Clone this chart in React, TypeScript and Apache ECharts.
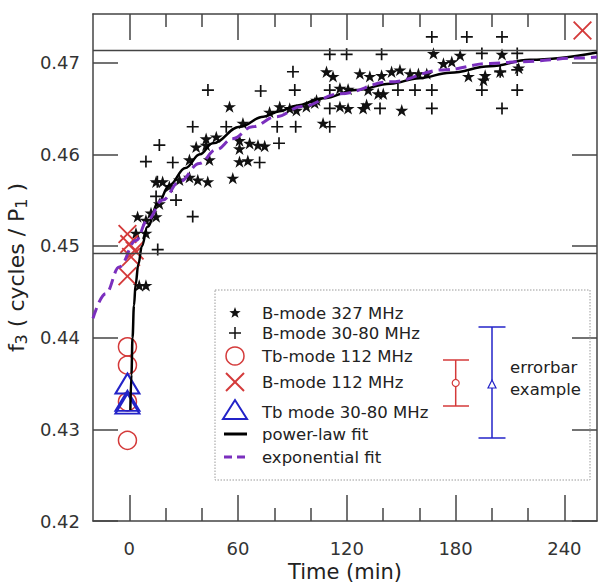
import React, { useEffect, useRef } from 'react';
import * as echarts from 'echarts';

const X_MIN = -20;
const X_MAX = 258;
const Y_MIN = 0.42;
const Y_MAX = 0.4753;
const xMajorTicks = [0, 60, 120, 180, 240];
const xMinorTicks = [20, 40, 80, 100, 140, 160, 200, 220];
const yTicks = [0.42, 0.43, 0.44, 0.45, 0.46, 0.47];
const refLines = [0.4713, 0.4492];

// B-mode 327 MHz (stars)
const starT = [5.5, 9.2, 3.7, 4.6, 9.2, 12, 14.8, 14.8, 18.4, 27.7, 33.2, 37.8, 43.3, 57.1, 33.2, 44.2, 36.9, 42.4, 42.4, 48, 60.8, 62.7, 66.4, 71, 74.7, 60.8, 65.4, 55.3, 83, 9.2, 60.8, 22.1, 16.6,
  108.8, 112.4, 127.2, 132.7, 139.2, 144.7, 149.3, 154.9, 159.5, 164.1, 116.2, 120.7, 131.8, 137.3, 140.1, 116.2, 120.7, 129, 130.9, 150.3, 88.5, 97.7, 102.3, 106.9, 92.2, 103.3, 77.4,
  167.8, 182.5, 205.6, 173.3, 177.9, 187.1, 196.3, 195.4, 204.6, 214.8];
const starV = [0.4457, 0.4457, 0.4514, 0.4532, 0.4528, 0.4536, 0.4532, 0.457, 0.457, 0.4572, 0.4575, 0.4572, 0.457, 0.4574, 0.4594, 0.4594, 0.4608, 0.461, 0.4617, 0.4619, 0.4606, 0.4634, 0.4612, 0.461, 0.4609, 0.4592, 0.4593, 0.4652, 0.4652, 0.4514, 0.4615, 0.4565, 0.4546,
  0.469, 0.4685, 0.4688, 0.4685, 0.4686, 0.469, 0.4692, 0.4688, 0.4688, 0.4688, 0.4672, 0.4671, 0.467, 0.4666, 0.4666, 0.4652, 0.465, 0.465, 0.4654, 0.4648, 0.465, 0.4652, 0.4656, 0.4634, 0.4648, 0.4659, 0.4646,
  0.471, 0.4708, 0.4709, 0.4699, 0.4701, 0.4685, 0.4686, 0.4681, 0.469, 0.4694];

// B-mode 30-80 MHz (pluses)
const plusT = [166.9, 186.2, 205.6, 110.6, 119.9, 139.2, 194.5, 214, 90.3, 204.6, 214, 43.4, 72.5, 91.3, 110.6, 148.2, 157.6, 166.9, 194.5, 214, 110.6, 138.3, 166.9, 205.6, 35, 53.5, 81.6, 91.8, 110.6, 16.6, 82.6, 9.2, 24, 71.9, 14.8, 25.8, 35, 15.7, 15.5];
const plusV = [0.4728, 0.4728, 0.4728, 0.4709, 0.4709, 0.4709, 0.471, 0.471, 0.469, 0.469, 0.4692, 0.467, 0.4669, 0.467, 0.467, 0.467, 0.467, 0.467, 0.467, 0.467, 0.465, 0.465, 0.465, 0.465, 0.463, 0.463, 0.463, 0.463, 0.463, 0.461, 0.4612, 0.4592, 0.4591, 0.4591, 0.4554, 0.455, 0.4532, 0.4496, 0.457];

// Tb-mode 112 MHz (circles)
const circT = [-1, -1, -1, -1];
const circV = [0.439, 0.437, 0.433, 0.4288];

// B-mode 112 MHz (crosses)
const crossT = [-1, 0, 3, 1, -1, 250];
const crossV = [0.4513, 0.4502, 0.4495, 0.4488, 0.4467, 0.4735];

// Tb mode 30-80 MHz (triangles)
const triT = [-1, -1, -1];
const triV = [0.435, 0.4331, 0.4328];

// power-law fit
const powT = [0.6, 1.2, 1.8, 2.6, 3.5, 5, 7, 10, 16, 22, 31, 39, 46, 61, 74, 83, 92, 107, 125, 144, 160, 177, 199, 221, 258];
const powV = [0.4321, 0.436, 0.44, 0.4435, 0.4458, 0.448, 0.45, 0.4521, 0.4547, 0.4566, 0.4585, 0.46, 0.4612, 0.463, 0.4641, 0.4647, 0.4653, 0.4661, 0.467, 0.4677, 0.4683, 0.4689, 0.4696, 0.4703, 0.4711];

// exponential fit
const expT = [-20, -13, -5.5, 3.7, 10, 18.4, 27.7, 38.7, 48, 57, 68, 81, 95, 116, 144, 173, 199, 216, 249, 258];
const expV = [0.4421, 0.4448, 0.4477, 0.4506, 0.4528, 0.455, 0.457, 0.459, 0.4605, 0.4617, 0.463, 0.4641, 0.4652, 0.4666, 0.4679, 0.4692, 0.4699, 0.4701, 0.4705, 0.4706];

const legendNames = ['B-mode 327 MHz', 'B-mode 30-80 MHz', 'Tb-mode 112 MHz', 'B-mode 112 MHz', 'Tb mode 30-80 MHz', 'power-law fit', 'exponential fit'];

const RED = '#d43a3a';
const BLUE = '#2323c8';
const PURPLE = '#7b2fbe';
const INK = '#222';
const AXIS = '#444';
const FONT = 'DejaVu Sans';

const STAR = 'path://M50,0L61.2,34.5L97.6,34.5L68.2,55.9L79.4,90.5L50,69.1L20.6,90.5L31.8,55.9L2.4,34.5L38.8,34.5Z';
const PLUS = 'path://M8.6,0H11.4V8.6H20V11.4H11.4V20H8.6V11.4H0V8.6H8.6Z';
const CROSS = 'path://M0,1.4L1.4,0L10,8.6L18.6,0L20,1.4L11.4,10L20,18.6L18.6,20L10,11.4L1.4,20L0,18.6L8.6,10Z';

const zip = (a: number[], b: number[]) => a.map((t, i) => [t, b[i]]);

function starPoints(cx: number, cy: number, r: number) {
  const pts: number[][] = [];
  for (let i = 0; i < 10; i++) {
    const rr = i % 2 === 0 ? r : r * 0.4;
    const a = -Math.PI / 2 + (i * Math.PI) / 5;
    pts.push([cx + rr * Math.cos(a), cy + rr * Math.sin(a)]);
  }
  return pts;
}

export default function App() {
  const ref = useRef<HTMLDivElement>(null);
  useEffect(() => {
    if (!ref.current) return;
    const chart = echarts.init(ref.current, null, { renderer: 'svg' });
    const gridRect = { left: 93, top: 14, width: 504, height: 507, containLabel: false, outerBoundsMode: 'none' };
    const tickLine = { color: AXIS, width: 1.5 };
    const baseX = { type: 'value', min: X_MIN, max: X_MAX, splitLine: { show: false } };
    const baseY = { type: 'value', min: Y_MIN, max: Y_MAX, splitLine: { show: false } };

    const legendRowsY = [313, 333, 356, 382, 410, 434, 457];
    const lx = 235;
    const legendGraphics: any[] = [
      { type: 'rect', shape: { x: 215, y: 290, width: 375, height: 190 }, style: { fill: 'none', stroke: '#9a9a9a', lineWidth: 1, lineDash: [1.5, 1.5] }, z: 10 },
      { type: 'polygon', shape: { points: starPoints(lx, legendRowsY[0], 6) }, style: { fill: '#111' }, z: 10 },
      { type: 'line', shape: { x1: lx - 6, y1: legendRowsY[1], x2: lx + 6, y2: legendRowsY[1] }, style: { stroke: '#111', lineWidth: 1.5 }, z: 10 },
      { type: 'line', shape: { x1: lx, y1: legendRowsY[1] - 6, x2: lx, y2: legendRowsY[1] + 6 }, style: { stroke: '#111', lineWidth: 1.5 }, z: 10 },
      { type: 'circle', shape: { cx: lx, cy: legendRowsY[2], r: 9 }, style: { fill: 'none', stroke: RED, lineWidth: 1.5 }, z: 10 },
      { type: 'line', shape: { x1: lx - 9, y1: legendRowsY[3] - 9, x2: lx + 9, y2: legendRowsY[3] + 9 }, style: { stroke: RED, lineWidth: 2 }, z: 10 },
      { type: 'line', shape: { x1: lx - 9, y1: legendRowsY[3] + 9, x2: lx + 9, y2: legendRowsY[3] - 9 }, style: { stroke: RED, lineWidth: 2 }, z: 10 },
      { type: 'polygon', shape: { points: [[lx - 12, legendRowsY[4] + 9], [lx + 12, legendRowsY[4] + 9], [lx, legendRowsY[4] - 10]] }, style: { fill: 'none', stroke: BLUE, lineWidth: 2 }, z: 10 },
      { type: 'line', shape: { x1: lx - 11, y1: legendRowsY[5], x2: lx + 12, y2: legendRowsY[5] }, style: { stroke: '#000', lineWidth: 3 }, z: 10 },
      { type: 'line', shape: { x1: lx - 11, y1: legendRowsY[6], x2: lx + 12, y2: legendRowsY[6] }, style: { stroke: PURPLE, lineWidth: 3, lineDash: [8, 5] }, z: 10 },
      ...legendNames.map((n, i) => ({
        type: 'text', x: 262, y: legendRowsY[i] + (i === 4 ? 2 : 0),
        style: { text: n, fill: INK, font: `16.5px "${FONT}"`, textAlign: 'left', textVerticalAlign: 'middle' }, z: 10,
      })),
      // errorbar example
      { type: 'line', shape: { x1: 455.7, y1: 360, x2: 455.7, y2: 406 }, style: { stroke: RED, lineWidth: 1.5 }, z: 10 },
      { type: 'line', shape: { x1: 443, y1: 360, x2: 469, y2: 360 }, style: { stroke: RED, lineWidth: 1.5 }, z: 10 },
      { type: 'line', shape: { x1: 443, y1: 406, x2: 469, y2: 406 }, style: { stroke: RED, lineWidth: 1.5 }, z: 10 },
      { type: 'circle', shape: { cx: 455.7, cy: 383, r: 3.5 }, style: { fill: '#fff', stroke: RED, lineWidth: 1.2 }, z: 11 },
      { type: 'line', shape: { x1: 492, y1: 327, x2: 492, y2: 438 }, style: { stroke: BLUE, lineWidth: 1.5 }, z: 10 },
      { type: 'line', shape: { x1: 478.5, y1: 327, x2: 505.5, y2: 327 }, style: { stroke: BLUE, lineWidth: 1.5 }, z: 10 },
      { type: 'line', shape: { x1: 478.5, y1: 438, x2: 505.5, y2: 438 }, style: { stroke: BLUE, lineWidth: 1.5 }, z: 10 },
      { type: 'polygon', shape: { points: [[488, 388], [496, 388], [492, 380]] }, style: { fill: '#fff', stroke: BLUE, lineWidth: 1.2 }, z: 11 },
      { type: 'text', x: 510, y: 367, style: { text: 'errorbar', fill: INK, font: `16.5px "${FONT}"`, textAlign: 'left', textVerticalAlign: 'middle' }, z: 10 },
      { type: 'text', x: 510, y: 389, style: { text: 'example', fill: INK, font: `16.5px "${FONT}"`, textAlign: 'left', textVerticalAlign: 'middle' }, z: 10 },
    ];

    chart.setOption({
      animation: false,
      backgroundColor: '#fff',
      grid: [{ ...gridRect }, { ...gridRect }],
      xAxis: [
        {
          ...baseX, gridIndex: 0, position: 'bottom',
          axisLine: { show: true, onZero: false, lineStyle: tickLine },
          axisTick: { show: true, inside: true, length: 26, customValues: xMajorTicks, lineStyle: tickLine },
          axisLabel: { show: true, customValues: xMajorTicks, fontSize: 18, color: '#333', fontFamily: FONT, margin: 18 },
          name: 'Time (min)', nameLocation: 'middle', nameGap: 37,
          nameTextStyle: { fontSize: 21, color: INK, fontFamily: FONT },
        },
        {
          ...baseX, gridIndex: 0, position: 'top',
          axisLine: { show: true, onZero: false, lineStyle: tickLine },
          axisTick: { show: true, inside: true, length: 26, customValues: xMajorTicks, lineStyle: tickLine },
          axisLabel: { show: false },
        },
        {
          ...baseX, gridIndex: 1, position: 'bottom',
          axisLine: { show: false, onZero: false },
          axisTick: { show: true, inside: true, length: 13, customValues: xMinorTicks, lineStyle: tickLine },
          axisLabel: { show: false },
        },
        {
          ...baseX, gridIndex: 1, position: 'top',
          axisLine: { show: false, onZero: false },
          axisTick: { show: true, inside: true, length: 13, customValues: xMinorTicks, lineStyle: tickLine },
          axisLabel: { show: false },
        },
      ],
      yAxis: [
        {
          ...baseY, gridIndex: 0, position: 'left',
          axisLine: { show: true, onZero: false, lineStyle: tickLine },
          axisTick: { show: true, inside: true, length: 25, customValues: yTicks, lineStyle: tickLine },
          axisLabel: {
            show: true, customValues: yTicks, fontSize: 18, color: '#333', fontFamily: FONT, margin: 13,
            formatter: (v: number) => v.toFixed(2),
          },
          name: '{n|f}{s|3}{n| ( cycles / P}{s|1}{n| )}',
          nameLocation: 'middle', nameGap: 50,
          nameTextStyle: {
            color: INK, fontFamily: FONT,
            rich: {
              n: { fontSize: 22, lineHeight: 26, color: INK, fontFamily: FONT },
              s: { fontSize: 16, lineHeight: 14, color: INK, fontFamily: FONT, verticalAlign: 'bottom' },
            },
          },
        },
        {
          ...baseY, gridIndex: 0, position: 'right',
          axisLine: { show: true, onZero: false, lineStyle: tickLine },
          axisTick: { show: true, inside: true, length: 25, customValues: yTicks, lineStyle: tickLine },
          axisLabel: { show: false },
        },
        { ...baseY, gridIndex: 1, position: 'left', show: false, axisLine: { show: false, onZero: false } },
        { ...baseY, gridIndex: 1, position: 'right', show: false, axisLine: { show: false, onZero: false } },
      ],
      series: [
        {
          name: legendNames[0], type: 'scatter', xAxisIndex: 0, yAxisIndex: 0,
          data: zip(starT, starV), symbol: STAR, symbolSize: 13, symbolKeepAspect: true,
          itemStyle: { color: '#111', opacity: 1 },
          markLine: {
            silent: true, symbol: 'none', label: { show: false }, precision: 5,
            lineStyle: { color: AXIS, width: 1.3, type: 'solid' },
            data: refLines.map((v) => ({ yAxis: v })),
          },
        },
        {
          name: legendNames[1], type: 'scatter', xAxisIndex: 0, yAxisIndex: 0,
          data: zip(plusT, plusV), symbol: PLUS, symbolSize: 12,
          itemStyle: { color: '#111', opacity: 1 },
        },
        {
          name: legendNames[2], type: 'scatter', xAxisIndex: 0, yAxisIndex: 0,
          data: zip(circT, circV), symbol: 'circle', symbolSize: 18,
          itemStyle: { color: 'rgba(0,0,0,0)', borderColor: RED, borderWidth: 1.5, opacity: 1 },
        },
        {
          name: legendNames[4], type: 'scatter', xAxisIndex: 0, yAxisIndex: 0,
          data: zip(triT, triV), symbol: 'triangle', symbolSize: [24, 20],
          itemStyle: { color: 'rgba(0,0,0,0)', borderColor: BLUE, borderWidth: 2, opacity: 1 },
        },
        {
          name: legendNames[3], type: 'scatter', xAxisIndex: 0, yAxisIndex: 0,
          data: zip(crossT, crossV), symbol: CROSS, symbolSize: 19,
          itemStyle: { color: RED, opacity: 1 },
        },
        {
          name: legendNames[5], type: 'line', xAxisIndex: 0, yAxisIndex: 0,
          data: zip(powT, powV), symbol: 'none', smooth: 0.4, smoothMonotone: 'x',
          lineStyle: { color: '#000', width: 2.5 },
        },
        {
          name: legendNames[6], type: 'line', xAxisIndex: 0, yAxisIndex: 0,
          data: zip(expT, expV), symbol: 'none', smooth: 0.4, smoothMonotone: 'x',
          lineStyle: { color: PURPLE, width: 3, type: [11, 6] },
        },
      ],
      graphic: legendGraphics,
    });
    return () => chart.dispose();
  }, []);
  return <div ref={ref} style={{ position: 'fixed', left: 0, top: 0, width: 601, height: 584 }} />;
}
